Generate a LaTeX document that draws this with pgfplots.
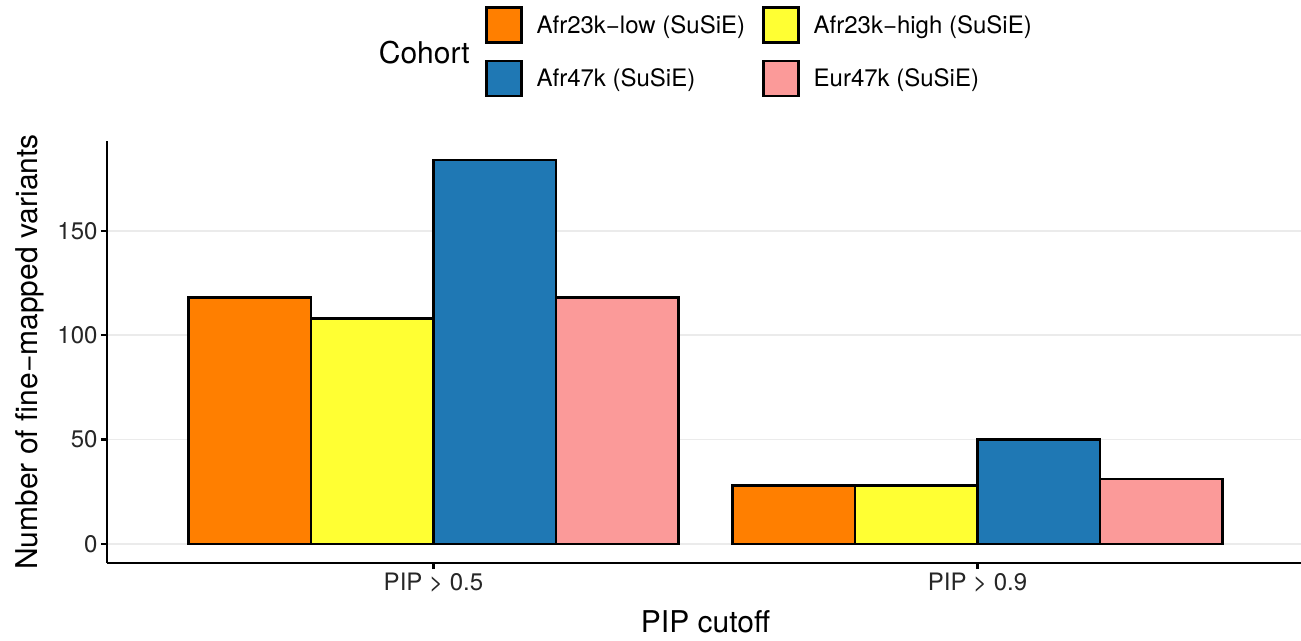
\documentclass[border=0pt]{standalone}
\usepackage{fontspec}
\setmainfont{TeX Gyre Heros}
\usepackage{pgfplots}
\pgfplotsset{compat=1.18}
\definecolor{cOrange}{HTML}{FF7F00}
\definecolor{cYellow}{HTML}{FFFF33}
\definecolor{cBlue}{HTML}{1F78B4}
\definecolor{cPink}{HTML}{FB9A99}
\definecolor{gridc}{HTML}{EBEBEB}
\pgfplotsset{boxlegend/.style={legend image code/.code={\draw[##1] (0pt,-17.5pt) rectangle (35pt,17.5pt);}}}
\begin{document}
\begin{tikzpicture}
\path[use as bounding box] (0,0) rectangle (1301pt,640pt);
\begin{axis}[
  at={(107pt,77pt)}, anchor=south west,
  scale only axis, width=1197pt, height=422pt,
  xmin=-0.6, xmax=1.6, ymin=-9.2, ymax=193.2,
  axis lines=left,
  axis line style={-, line width=2.2pt, black},
  xtick={0,1}, xticklabels={PIP > 0.5, PIP > 0.9},
  ytick={0,50,100,150},
  tick align=outside, major tick length=6pt,
  tick style={line width=2.2pt, black},
  tick label style={font=\fontsize{24}{28}\selectfont, text=black!85},
  /pgf/number format/assume math mode=true,
  ymajorgrids, grid style={gridc, line width=1.7pt},
  xlabel={PIP cutoff}, ylabel={Number of fine\textminus mapped variants},
  label style={font=\fontsize{30}{36}\selectfont},
  xlabel style={at={(axis description cs:0.5,-0.1398)}, anchor=center},
  ylabel style={at={(axis description cs:-0.0643,0.5)}, anchor=center},
  legend columns=2,
  legend cell align=left,
  legend style={at={(0.3158,1.3199)}, anchor=north west, draw=none, fill=none,
    inner sep=0pt, outer sep=0pt, column sep=12pt, row sep=16pt,
    font=\fontsize{24}{28}\selectfont,
    /tikz/every even column/.append style={column sep=15pt}},
]
\addplot[ybar, bar width=0.225, bar shift=-0.3375, fill=cOrange, draw=black, line width=2.6pt, boxlegend]
  coordinates {(0,118) (1,28)};
\addlegendentry{Afr23k\textminus low (SuSiE)}
\addplot[ybar, bar width=0.225, bar shift=-0.1125, fill=cYellow, draw=black, line width=2.6pt, boxlegend]
  coordinates {(0,108) (1,28)};
\addlegendentry{Afr23k\textminus high (SuSiE)}
\addplot[ybar, bar width=0.225, bar shift=0.1125, fill=cBlue, draw=black, line width=2.6pt, boxlegend]
  coordinates {(0,184) (1,50)};
\addlegendentry{Afr47k (SuSiE)}
\addplot[ybar, bar width=0.225, bar shift=0.3375, fill=cPink, draw=black, line width=2.6pt, boxlegend]
  coordinates {(0,118) (1,31)};
\addlegendentry{Eur47k (SuSiE)}
\end{axis}
\node[font=\fontsize{30}{36}\selectfont, anchor=east, inner sep=0pt] at (470pt,587pt) {Cohort};
\end{tikzpicture}
\end{document}
